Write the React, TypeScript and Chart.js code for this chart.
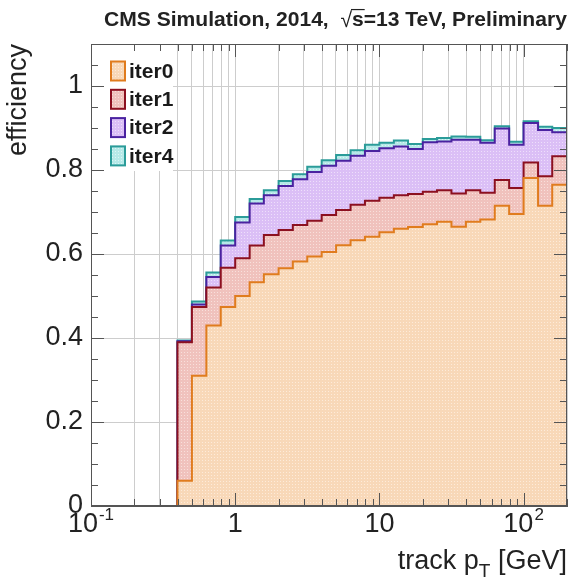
import { useEffect, useRef } from 'react';
import { Chart, registerables } from 'chart.js';

Chart.register(...registerables);

// Bin edges in track pT [GeV] (10 bins per decade)
const BIN_EDGES = [
  0.1, 0.126, 0.158, 0.2, 0.251, 0.316, 0.398, 0.501, 0.631, 0.794,
  1, 1.26, 1.58, 2, 2.51, 3.16, 3.98, 5.01, 6.31, 7.94,
  10, 12.6, 15.8, 20, 25.1, 31.6, 39.8, 50.1, 63.1, 79.4,
  100, 126, 158, 200,
];

// Cumulative efficiency per bin
const ITER0 = [
  0, 0, 0, 0, 0, 0, 0.06, 0.31, 0.43, 0.474,
  0.5, 0.533, 0.552, 0.566, 0.582, 0.594, 0.605, 0.621, 0.633, 0.641,
  0.652, 0.66, 0.664, 0.671, 0.677, 0.665, 0.677, 0.682, 0.715, 0.695,
  0.781, 0.715, 0.765,
];
const ITER1 = [
  0, 0, 0, 0, 0, 0, 0.39, 0.474, 0.52, 0.567,
  0.59, 0.62, 0.645, 0.657, 0.669, 0.679, 0.693, 0.705, 0.717, 0.727,
  0.734, 0.74, 0.743, 0.748, 0.752, 0.744, 0.752, 0.746, 0.776, 0.757,
  0.818, 0.785, 0.833,
];
const ITER2 = [
  0, 0, 0, 0, 0, 0, 0.392, 0.48, 0.545, 0.62,
  0.675, 0.72, 0.74, 0.762, 0.778, 0.795, 0.81, 0.822, 0.834, 0.845,
  0.852, 0.856, 0.85, 0.866, 0.868, 0.872, 0.872, 0.865, 0.899, 0.86,
  0.912, 0.895, 0.89,
];
const ITER4 = [
  0, 0, 0, 0, 0, 0, 0.394, 0.487, 0.556, 0.632,
  0.688, 0.731, 0.752, 0.774, 0.79, 0.808, 0.823, 0.836, 0.847, 0.86,
  0.865, 0.87, 0.862, 0.874, 0.876, 0.88, 0.879, 0.871, 0.904, 0.867,
  0.916, 0.903, 0.9,
];

const SERIES_LABELS = ['iter0', 'iter1', 'iter2', 'iter4'];

const Y_TICKS = [0, 0.2, 0.4, 0.6, 0.8, 1];
const Y_MINOR = [
  0.05, 0.1, 0.15, 0.25, 0.3, 0.35, 0.45, 0.5, 0.55, 0.65, 0.7, 0.75,
  0.85, 0.9, 0.95, 1.05,
];
const X_GRID = [
  0.2, 0.3, 0.4, 0.5, 0.6, 0.7, 0.8, 0.9,
  1, 2, 3, 4, 5, 6, 7, 8, 9,
  10, 20, 30, 40, 50, 60, 70, 80, 90,
  100, 200,
];
const X_LABEL_VALUES = [0.1, 1, 10, 100];
const X_LABEL_BASE = ['10', '1', '10', '10'];
const X_LABEL_EXP = ['-1', '', '', '2'];

const TITLE_A = 'CMS Simulation, 2014,  ';
const TITLE_SQRT = '\u221A';
const TITLE_S = 's';
const TITLE_B = '=13 TeV, Preliminary';

const LINE_COLORS = ['#e07c1e', '#8c1020', '#4a22a0', '#2b9c99'];
const FILL_COLORS = ['#f8d8b8', '#f0c2bd', '#dbbff6', '#b6e9e8'];
const DOT_COLORS = ['#fdebd9', '#f8e0dc', '#eedffb', '#dcf6f5'];

const FONT = '"Liberation Sans", Arial, sans-serif';

export default function App() {
  const ref = useRef<HTMLCanvasElement>(null);

  useEffect(() => {
    const canvas = ref.current!;
    const mainCtx = canvas.getContext('2d')!;
    const makePattern = (base: string, dot: string) => {
      const c = document.createElement('canvas');
      c.width = 3;
      c.height = 3;
      const g = c.getContext('2d')!;
      g.fillStyle = base;
      g.fillRect(0, 0, 3, 3);
      g.fillStyle = dot;
      g.fillRect(1, 1, 1, 1);
      return mainCtx.createPattern(c, 'repeat')!;
    };
    const patterns = FILL_COLORS.map((c, i) => makePattern(c, DOT_COLORS[i]));

    const series = [ITER0, ITER1, ITER2, ITER4];
    const toPoints = (vals: number[]) =>
      BIN_EDGES.map((x, i) => ({ x, y: vals[Math.min(i, vals.length - 1)] }));

    const datasets = series.map((vals, i) => ({
      label: SERIES_LABELS[i],
      data: toPoints(vals),
      stepped: 'before' as const,
      borderColor: LINE_COLORS[i],
      borderWidth: 2,
      backgroundColor: patterns[i],
      fill: i === 0 ? 'origin' : '-1',
      pointRadius: 0,
    }));

    const deco = {
      id: 'deco',
      beforeDatasetsDraw(chart: any) {
        const { ctx, chartArea: a } = chart;
        ctx.save();
        ctx.fillStyle = '#ffffff';
        ctx.fillRect(a.left + 1, a.top + 1, 172 - a.left, 170 - a.top);
        ctx.restore();
      },
      afterDraw(chart: any) {
        const { ctx, chartArea: a } = chart;
        const xs = chart.scales.x;
        const ys = chart.scales.y;
        ctx.save();
        // frame
        ctx.strokeStyle = '#555';
        ctx.lineWidth = 1;
        ctx.strokeRect(a.left + 0.5, a.top + 0.5, a.right - a.left - 1, a.bottom - a.top - 1);
        // x ticks (inside, bottom and top)
        ctx.beginPath();
        for (const v of X_GRID) {
          const major = X_LABEL_VALUES.includes(v);
          const len = major ? 13 : 7;
          const px = Math.round(xs.getPixelForValue(v)) + 0.5;
          ctx.moveTo(px, a.bottom);
          ctx.lineTo(px, a.bottom - len);
          ctx.moveTo(px, a.top);
          ctx.lineTo(px, a.top + len);
        }
        // y ticks (inside, left and right)
        const yAll = [...Y_TICKS, ...Y_MINOR];
        for (const v of yAll) {
          const major = Y_TICKS.includes(v);
          const len = major ? 13 : 7;
          const py = Math.round(ys.getPixelForValue(v)) + 0.5;
          ctx.moveTo(a.left, py);
          ctx.lineTo(a.left + len, py);
          ctx.moveTo(a.right, py);
          ctx.lineTo(a.right - len, py);
        }
        ctx.stroke();

        // x tick labels with exponents
        ctx.fillStyle = '#222';
        ctx.textBaseline = 'alphabetic';
        ctx.textAlign = 'left';
        X_LABEL_VALUES.forEach((v, i) => {
          const base = X_LABEL_BASE[i];
          const exp = X_LABEL_EXP[i];
          ctx.font = `27px ${FONT}`;
          const wb = ctx.measureText(base).width;
          ctx.font = `17px ${FONT}`;
          const we = exp ? ctx.measureText(exp).width + 1 : 0;
          const cx = xs.getPixelForValue(v);
          const x0 = cx - (wb + we) / 2;
          ctx.font = `27px ${FONT}`;
          ctx.fillText(base, x0, 532);
          if (exp) {
            ctx.font = `17px ${FONT}`;
            ctx.fillText(exp, x0 + wb + 1, 520);
          }
        });

        // x axis title: track p_T [GeV]
        ctx.font = `27px ${FONT}`;
        const p1 = 'track p';
        const p3 = ' [GeV]';
        const w1 = ctx.measureText(p1).width;
        const w3 = ctx.measureText(p3).width;
        ctx.font = `19px ${FONT}`;
        const w2 = ctx.measureText('T').width;
        let tx = a.right - (w1 + w2 + w3);
        ctx.font = `27px ${FONT}`;
        ctx.fillText(p1, tx, 569);
        tx += w1;
        ctx.font = `19px ${FONT}`;
        ctx.fillText('T', tx, 577);
        tx += w2;
        ctx.font = `27px ${FONT}`;
        ctx.fillText(p3, tx, 569);

        // y axis title
        ctx.save();
        ctx.translate(19, a.top);
        ctx.rotate(-Math.PI / 2);
        ctx.textAlign = 'right';
        ctx.textBaseline = 'middle';
        ctx.font = `27px ${FONT}`;
        ctx.fillText('efficiency', 0, 0);
        ctx.restore();

        // title
        ctx.font = `bold 21px ${FONT}`;
        const full = TITLE_A + TITLE_SQRT + TITLE_S + TITLE_B;
        const wFull = ctx.measureText(full).width;
        const size = (21 * 463) / wFull;
        ctx.font = `bold ${size.toFixed(2)}px ${FONT}`;
        let hx = 104;
        const by = 26;
        ctx.fillText(TITLE_A, hx, by);
        hx += ctx.measureText(TITLE_A).width;
        ctx.font = `${size.toFixed(2)}px ${FONT}`;
        ctx.fillText(TITLE_SQRT, hx, by + 1);
        const wsq = ctx.measureText(TITLE_SQRT).width;
        hx += wsq;
        ctx.font = `bold ${size.toFixed(2)}px ${FONT}`;
        const ws = ctx.measureText(TITLE_S).width;
        ctx.fillText(TITLE_S, hx, by);
        ctx.beginPath();
        ctx.strokeStyle = '#222';
        ctx.lineWidth = 1.2;
        ctx.moveTo(hx - 1, by - size * 0.78);
        ctx.lineTo(hx + ws + 1, by - size * 0.78);
        ctx.stroke();
        hx += ws;
        ctx.fillText(TITLE_B, hx, by);

        // legend
        SERIES_LABELS.forEach((lab, i) => {
          const cy = 71 + i * 28.3;
          ctx.fillStyle = patterns[i];
          ctx.fillRect(111, cy - 9.5, 14, 19);
          ctx.strokeStyle = LINE_COLORS[i];
          ctx.lineWidth = 2;
          ctx.strokeRect(111, cy - 9.5, 14, 19);
          ctx.fillStyle = '#1a1a1a';
          ctx.font = `bold 21px ${FONT}`;
          ctx.textAlign = 'left';
          ctx.textBaseline = 'middle';
          ctx.fillText(lab, 129, cy + 1);
        });
        ctx.restore();
      },
    };

    const chart = new Chart(canvas, {
      type: 'line',
      data: { datasets: datasets as any },
      options: {
        animation: false,
        responsive: false,
        devicePixelRatio: 1,
        layout: { padding: { top: 44, right: 5, left: 0, bottom: 0 } },
        plugins: { legend: { display: false }, tooltip: { enabled: false } },
        elements: { point: { radius: 0 }, line: { tension: 0 } },
        scales: {
          x: {
            type: 'logarithmic',
            min: BIN_EDGES[0],
            max: BIN_EDGES[BIN_EDGES.length - 1],
            afterBuildTicks: (s: any) => {
              s.ticks = X_GRID.map((v) => ({ value: v }));
            },
            afterFit: (s: any) => {
              s.height = 73;
            },
            ticks: { display: false },
            grid: { color: '#cdcdcd', lineWidth: 1, drawTicks: false },
            border: { display: true, color: '#555', width: 1 },
          },
          y: {
            type: 'linear',
            min: 0,
            max: 1.1,
            afterBuildTicks: (s: any) => {
              s.ticks = Y_TICKS.map((v) => ({ value: v }));
            },
            afterFit: (s: any) => {
              s.width = 91;
            },
            ticks: {
              color: '#222',
              padding: 8,
              font: { family: FONT, size: 27 },
              callback: (v: any) => {
                const n = Number(v);
                if (Math.abs(n) < 1e-9) return '0';
                if (Math.abs(n - 1) < 1e-9) return '1';
                return n.toFixed(1);
              },
            },
            grid: { color: '#cdcdcd', lineWidth: 1, drawTicks: false },
            border: { display: true, color: '#555', width: 1 },
          },
        },
      },
      plugins: [deco],
    });

    return () => chart.destroy();
  }, []);

  return (
    <div style={{ position: 'absolute', left: 0, top: 0, width: 572, height: 579, background: '#fff' }}>
      <canvas ref={ref} width={572} height={579} style={{ display: 'block', width: 572, height: 579 }} />
    </div>
  );
}
